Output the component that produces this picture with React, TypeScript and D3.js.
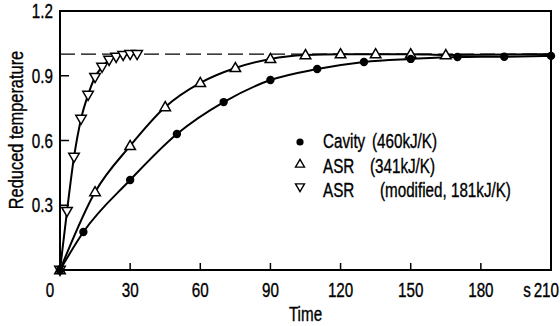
import React from 'react'
import * as d3 from 'd3'

// time (s) and reduced temperature
const cavityTime = [0, 10, 30, 50, 70, 90, 110, 130, 150, 170, 190, 210]
const cavityValue = [0, 0.176, 0.417, 0.63, 0.778, 0.88, 0.931, 0.964, 0.978, 0.987, 0.988, 0.992]

const asrTime = [0, 15, 30, 45, 60, 75, 90, 105, 120, 135, 150, 165]
const asrValue = [0, 0.361, 0.575, 0.755, 0.867, 0.936, 0.978, 0.996, 1.0, 1.0, 1.0, 0.996]

const modTime = [0, 3, 6, 9, 12, 15, 18, 21, 24, 27, 30, 33]
const modValue = [0, 0.273, 0.524, 0.7, 0.811, 0.894, 0.941, 0.973, 0.987, 0.996, 1.0, 1.0]

const xTicks = [0, 30, 60, 90, 120, 150, 180, 210]
const yTicks = [0.3, 0.6, 0.9, 1.2]

const legendItems = [
  { marker: 'circle', name: 'Cavity', detail: '(460kJ/K)' },
  { marker: 'up', name: 'ASR', detail: '(341kJ/K)' },
  { marker: 'down', name: 'ASR', detail: '(modified, 181kJ/K)' }
]

const width = 560
const height = 326
const margin = { top: 11, right: 9, bottom: 56, left: 60 }
const font = "'Liberation Sans', Arial, sans-serif"
const narrow = 0.78

function triangle(cx: number, cy: number, s: number, up: boolean) {
  const h = s * 0.866
  const d = up ? 1 : -1
  return `M${cx},${cy - d * h * 0.6}L${cx - s / 2},${cy + d * h * 0.4}L${cx + s / 2},${cy + d * h * 0.4}Z`
}

// condensed lettering, like the DIN face of the original
function T({ x, y, anchor = 'start', rotate = 0, size = 19.5, children }: any) {
  return (
    <text
      transform={`translate(${x},${y})${rotate ? ` rotate(${rotate})` : ''} scale(${narrow},1)`}
      textAnchor={anchor}
      fontSize={size}
      stroke="#000"
      strokeWidth={0.35}
    >
      {children}
    </text>
  )
}

export default function App() {
  const x = d3.scaleLinear().domain([0, 210]).range([margin.left, width - margin.right])
  const y = d3.scaleLinear().domain([0, 1.2]).range([height - margin.bottom, margin.top])

  const line = d3.line<[number, number]>()
    .x(d => x(d[0]))
    .y(d => y(d[1]))
    .curve(d3.curveMonotoneX)

  const cavity = cavityTime.map((t, i) => [t, cavityValue[i]] as [number, number])
  const asr = asrTime.map((t, i) => [t, asrValue[i]] as [number, number])
  const mod = modTime.map((t, i) => [t, modValue[i]] as [number, number])

  const x0 = x(0)
  const x1 = x(210)
  const y0 = y(0)
  const y1 = y(1.2)

  const markerY = [142, 164, 187]
  const textY = [148, 173, 197]

  return (
    <svg width={width} height={height} style={{ position: 'absolute', left: 0, top: 0, background: '#fff' }}>
      {/* dashed reference at 1.0 */}
      <line x1={x0} x2={x1} y1={y(1)} y2={y(1)} stroke="#000" strokeWidth={1.4} strokeDasharray="15,6" />

      {/* curves */}
      <path d={line(cavity) || ''} fill="none" stroke="#000" strokeWidth={2} />
      <path d={line(asr.concat([[210, 1.0]])) || ''} fill="none" stroke="#000" strokeWidth={2} />
      <path d={line(mod) || ''} fill="none" stroke="#000" strokeWidth={2} />

      {/* frame */}
      <rect x={x0} y={y1} width={x1 - x0} height={y0 - y1} fill="none" stroke="#000" strokeWidth={2} />

      {/* ticks */}
      {xTicks.slice(1, -1).map(t => (
        <line key={'xt' + t} x1={x(t)} x2={x(t)} y1={y0} y2={y0 - 7} stroke="#000" strokeWidth={1.5} />
      ))}
      {yTicks.slice(0, -1).map(t => (
        <line key={'yt' + t} x1={x0} x2={x0 + 9} y1={y(t)} y2={y(t)} stroke="#000" strokeWidth={1.5} />
      ))}

      {/* markers */}
      {asr.map((d, i) => (
        <path key={'a' + i} d={triangle(x(d[0]), y(d[1]), 10.5, true)} fill="#fff" stroke="#000" strokeWidth={1.5} />
      ))}
      {mod.map((d, i) => (
        <path key={'m' + i} d={triangle(x(d[0]), y(d[1]), 10.5, false)} fill="#fff" stroke="#000" strokeWidth={1.5} />
      ))}
      {cavity.map((d, i) => (
        <circle key={'c' + i} cx={x(d[0])} cy={y(d[1])} r={4.2} fill="#000" />
      ))}
      <path d={triangle(x0, y0 - 1, 10, true)} fill="#000" />

      {/* tick labels */}
      <g fontFamily={font} fill="#000">
        {xTicks.slice(0, -1).map(t => (
          <T key={'xl' + t} x={t === 0 ? x(t) - 10 : x(t)} y={y0 + 27} anchor="middle">{t}</T>
        ))}
        <T x={x1 + 8} y={y0 + 27} anchor="end">210</T>
        <T x={x1 - 24} y={y0 + 27} anchor="middle">s</T>
        {yTicks.map(t => (
          <T key={'yl' + t} x={x0 - 7} y={y(t) + 7} anchor="end">{t.toFixed(1)}</T>
        ))}
        <T x={(x0 + x1) / 2} y={y0 + 51} anchor="middle">Time</T>
        <T x={23} y={130} anchor="middle" rotate={-90} size={21}>Reduced temperature</T>
      </g>

      {/* legend */}
      <g fontFamily={font} fill="#000">
        {legendItems.map((item, i) => (
          <g key={'lg' + i}>
            {item.marker === 'circle'
              ? <circle cx={300} cy={markerY[i]} r={3.6} fill="#000" />
              : <path d={triangle(300, markerY[i], 9, item.marker === 'up')} fill="#fff" stroke="#000" strokeWidth={1.4} />}
            <T x={323} y={textY[i]}>{item.name}</T>
            <T x={i === 0 ? 372 : i === 1 ? 370 : 380} y={textY[i]}>{item.detail}</T>
          </g>
        ))}
      </g>
    </svg>
  )
}
